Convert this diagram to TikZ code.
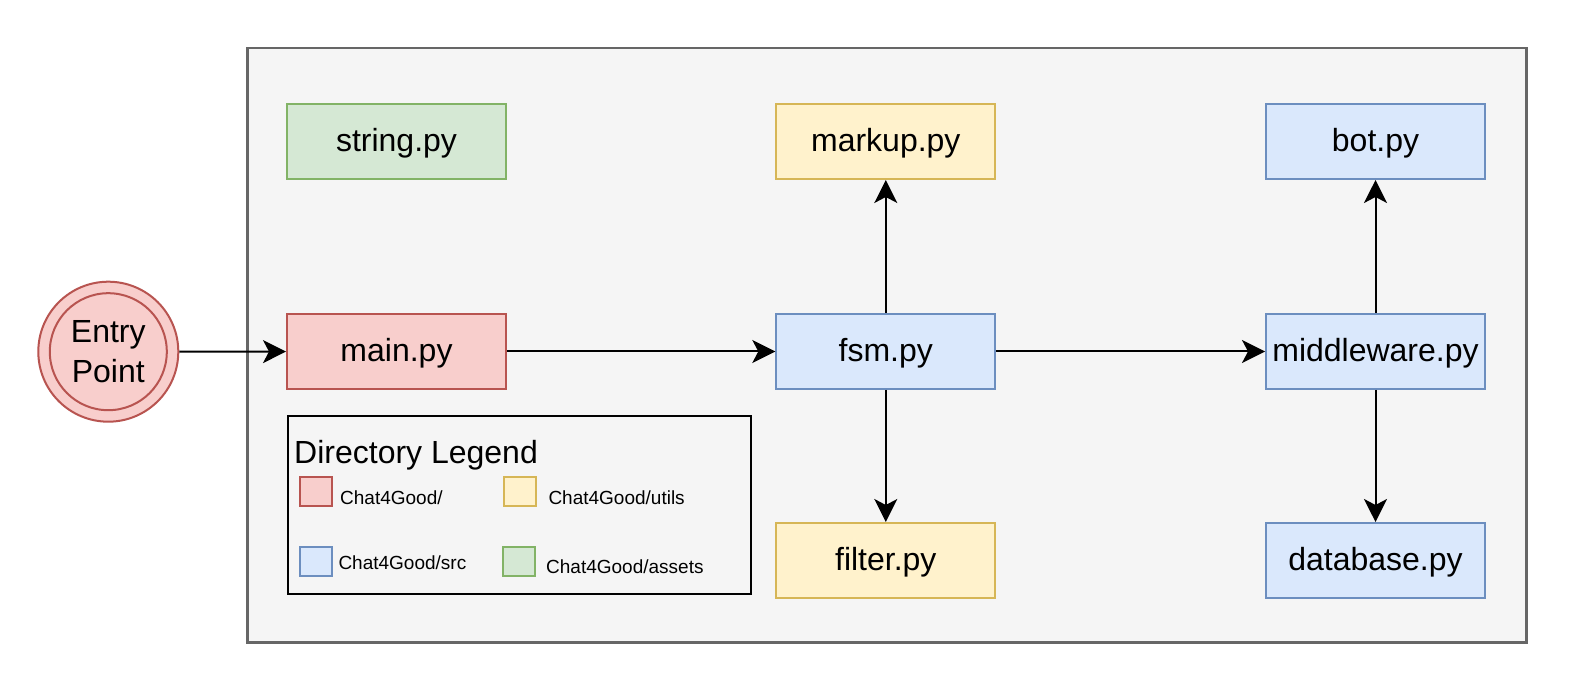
\documentclass[tikz,border=0pt]{standalone}
\usepackage{fontspec}
\setmainfont{Liberation Sans}
\usetikzlibrary{arrows.meta}
\definecolor{redF}{HTML}{F8CECC}
\definecolor{redS}{HTML}{B85450}
\definecolor{yelF}{HTML}{FFF2CC}
\definecolor{yelS}{HTML}{D6B656}
\definecolor{bluF}{HTML}{DAE8FC}
\definecolor{bluS}{HTML}{6C8EBF}
\definecolor{grnF}{HTML}{D5E8D4}
\definecolor{grnS}{HTML}{82B366}
\definecolor{contF}{HTML}{F5F5F5}
\definecolor{contS}{HTML}{666666}
\tikzset{
  redbox/.style={draw=redS, fill=redF},
  yelbox/.style={draw=yelS, fill=yelF},
  blubox/.style={draw=bluS, fill=bluF},
  grnbox/.style={draw=grnS, fill=grnF},
  filebox/.style={rectangle, minimum width=219pt, minimum height=75pt, line width=2pt, inner sep=0pt,
    font=\fontsize{32}{38}\selectfont, text height=26pt, text depth=6.6pt},
  swatch/.style={rectangle, minimum width=32pt, minimum height=29pt, line width=2pt, inner sep=0pt},
  leglabel/.style={anchor=base west, inner sep=0pt, font=\fontsize{19}{23}\selectfont},
  arr/.style={line width=2pt, -{Stealth[length=23pt, width=23pt, inset=6pt]}},
}
\begin{document}
\begin{tikzpicture}[x=1pt,y=-1pt]
\useasboundingbox (0,0) rectangle (1596,692);
\fill[white] (0,0) rectangle (1596,692);
% container
\node[draw=contS, fill=contF, line width=2.5pt, rectangle, inner sep=0pt, minimum width=1279pt, minimum height=594pt, anchor=north west] (cont) at (246,47) {};
% files
\node[filebox, grnbox] (string) at (396.5,141.5) {string.py};
\node[filebox, yelbox] (markup) at (885.8,141.5) {markup.py};
\node[filebox, blubox] (bot) at (1375.5,141.5) {bot.py};
\node[filebox, redbox] (main) at (396.5,351.5) {main.py};
\node[filebox, blubox] (fsm) at (885.8,351.5) {fsm.py};
\node[filebox, blubox] (mw) at (1375.5,351.5) {middleware.py};
\node[filebox, yelbox] (filter) at (885.8,560.5) {filter.py};
\node[filebox, blubox] (db) at (1375.5,560.5) {database.py};
% entry point
\node[circle, redbox, line width=2pt, minimum size=140pt, inner sep=0pt, align=center,
  font=\fontsize{32}{40}\selectfont] (entry) at (108.3,351.7) {Entry\\Point};
\draw[redS, line width=2pt] (entry.center) circle[radius=58.5pt];
% legend
\node[draw=black, line width=2pt, rectangle, inner sep=0pt, minimum width=463pt, minimum height=178pt, anchor=north west] (legend) at (287,415) {};
\node[anchor=base west, inner sep=0pt, font=\fontsize{32}{38}\selectfont] (legtitle) at (294,464) {Directory Legend};
\node[swatch, redbox] (swR) at (316,491) {};
\node[swatch, yelbox] (swY) at (520,491) {};
\node[swatch, blubox] (swB) at (316,561) {};
\node[swatch, grnbox] (swG) at (518.5,561) {};
\node[leglabel] (lR) at (340,504) {Chat4Good/};
\node[leglabel] (lY) at (548.3,504) {Chat4Good/utils};
\node[leglabel] (lB) at (338.3,569) {Chat4Good/src};
\node[leglabel] (lG) at (546,573) {Chat4Good/assets};
% arrows
\draw[arr] (entry) -- (main);
\draw[arr] (main) -- (fsm);
\draw[arr] (fsm) -- (mw);
\draw[arr] (fsm) -- (markup);
\draw[arr] (fsm) -- (filter);
\draw[arr] (mw) -- (bot);
\draw[arr] (mw) -- (db);
\end{tikzpicture}
\end{document}
